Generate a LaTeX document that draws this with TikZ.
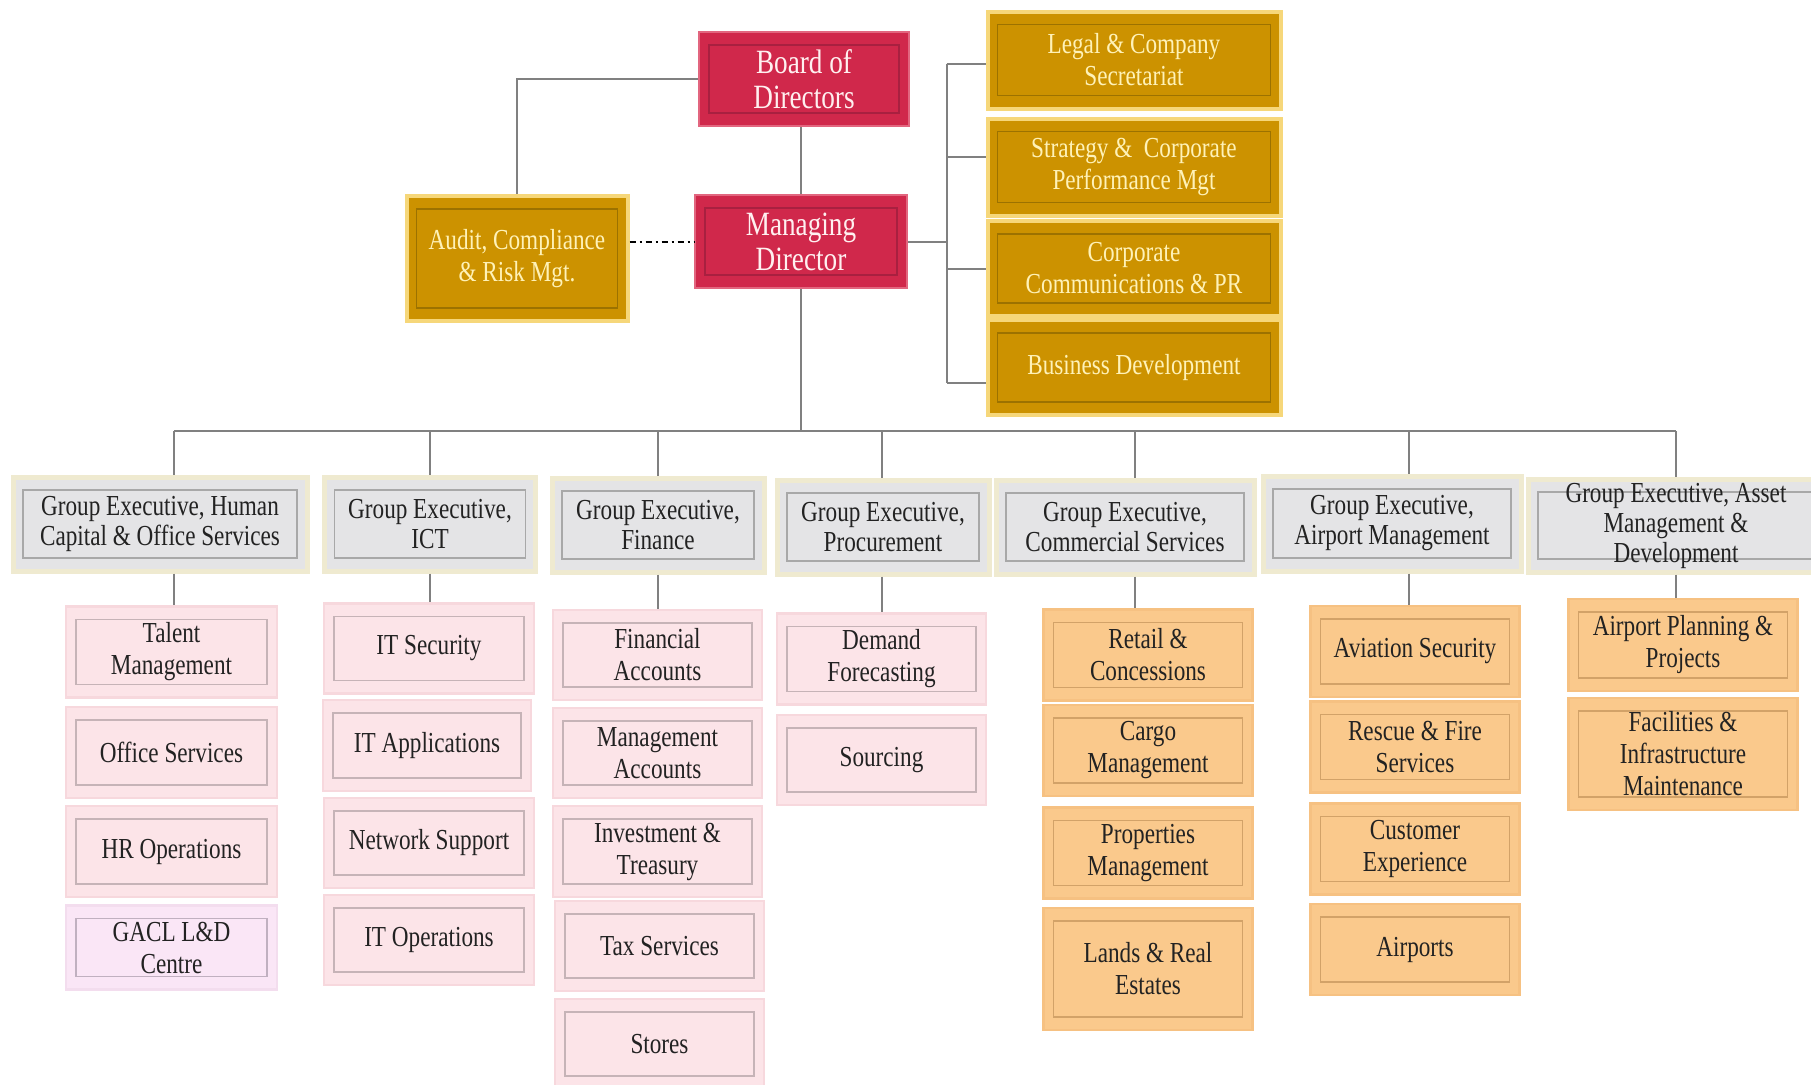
\documentclass[tikz,border=0pt]{standalone}
\usepackage{fontspec}
\setmainfont{Liberation Serif}[FakeStretch=0.8]
\usetikzlibrary{calc}
\definecolor{redF}{HTML}{D0284B}
\definecolor{redO}{HTML}{E2667F}
\definecolor{redI}{HTML}{A82040}
\definecolor{redT}{HTML}{FFF0F0}
\definecolor{goldF}{HTML}{CC9200}
\definecolor{goldO}{HTML}{F6D77A}
\definecolor{goldI}{HTML}{9C7200}
\definecolor{goldT}{HTML}{FFF2B8}
\definecolor{grayF}{HTML}{E4E4E6}
\definecolor{grayO}{HTML}{EFEAD0}
\definecolor{grayI}{HTML}{A8A8A8}
\definecolor{pinkF}{HTML}{FCE4E8}
\definecolor{pinkO}{HTML}{F7D8DD}
\definecolor{pinkI}{HTML}{C6B3B7}
\definecolor{lavF}{HTML}{FAE6F6}
\definecolor{lavO}{HTML}{F3DDEE}
\definecolor{lavI}{HTML}{C0B0C0}
\definecolor{orF}{HTML}{FAC98C}
\definecolor{orO}{HTML}{F6C182}
\definecolor{orI}{HTML}{D2A268}
\definecolor{darkT}{HTML}{222222}
\definecolor{lineC}{HTML}{808080}
\newcommand{\fntA}{\fontsize{14.5}{16}\selectfont}
\newcommand{\fntB}{\fontsize{17}{17.5}\selectfont}
\newcommand{\fntC}{\fontsize{14.5}{15}\selectfont}
\tikzset{
  bevcol/.code={\def\bevcolor{#1}},
  bev/.style={rectangle, inner sep=0pt, align=center, line width=1.2pt,
    path picture={\draw[line width=0.9pt, draw=\bevcolor]
      ([shift={(5pt,-6.5pt)}]path picture bounding box.north west) rectangle
      ([shift={(-5pt,6.5pt)}]path picture bounding box.south east);}},
  redbox/.style={bev, fill=redF, draw=redO, text=redT, bevcol=redI, font=\fntB},
  goldbox/.style={bev, fill=goldF, draw=goldO, line width=2pt, text=goldT, bevcol=goldI, font=\fntA},
  execbox/.style={bev, fill=grayF, draw=grayO, line width=2.5pt, text=darkT, bevcol=grayI, font=\fntC},
  pinkbox/.style={bev, fill=pinkF, draw=pinkO, text=darkT, bevcol=pinkI, font=\fntA},
  lavbox/.style={bev, fill=lavF, draw=lavO, text=darkT, bevcol=lavI, font=\fntA},
  orbox/.style={bev, fill=orF, draw=orO, text=darkT, bevcol=orI, font=\fntA},
  conn/.style={draw=lineC, line width=1pt},
  dashdot/.style={draw=black, line width=1pt, dash pattern=on 3pt off 2pt on 1pt off 2pt},
}
\newcommand{\orgbox}[7]{\node[#2, minimum width=#5*0.5pt, minimum height=#6*0.5pt] (#1) at (#3,#4) {#7};}
\begin{document}
\begin{tikzpicture}[x=0.5pt,y=-0.5pt]
\fill[white] (0,0) rectangle (1811,1084);
\useasboundingbox (0,0) rectangle (1811,1084);
% top level
\orgbox{board}{redbox}{804}{79}{210}{94}{Board of\\Directors}
\orgbox{md}{redbox}{801}{241.5}{212}{93}{Managing\\Director}
\orgbox{audit}{goldbox}{517}{258.5}{221}{125}{Audit, Compliance\\\& Risk Mgt.}
\orgbox{legal}{goldbox}{1134}{60}{293}{97}{Legal \& Company\\Secretariat}
\orgbox{strat}{goldbox}{1134}{167}{293}{97}{Strategy \&\ \ Corporate\\Performance Mgt}
\orgbox{comms}{goldbox}{1134}{268.5}{293}{95}{Corporate\\Communications \& PR}
\orgbox{bizdev}{goldbox}{1134}{367.5}{293}{95}{Business Development}
% executives
\orgbox{e1}{execbox}{160}{524}{294}{94}{Group Executive, Human\\Capital \& Office Services}
\orgbox{e2}{execbox}{430}{524}{211}{94}{Group Executive,\\ICT}
\orgbox{e3}{execbox}{658}{525}{212}{94}{Group Executive,\\Finance}
\orgbox{e4}{execbox}{883}{527}{212}{94}{Group Executive,\\Procurement}
\orgbox{e5}{execbox}{1125}{527}{258}{94}{Group Executive,\\Commercial Services}
\orgbox{e6}{execbox}{1392}{523.5}{258}{95}{Group Executive,\\Airport Management}
\orgbox{e7}{execbox}{1676}{525.5}{296}{93}{Group Executive, Asset\\Management \&\\Development}
% HCOS
\orgbox{c11}{pinkbox}{171.5}{652}{211}{91}{Talent\\Management}
\orgbox{c12}{pinkbox}{171.5}{752.5}{211}{91}{Office Services}
\orgbox{c13}{pinkbox}{171.5}{851.5}{211}{91}{HR Operations}
\orgbox{c14}{lavbox}{171.5}{947.5}{211}{84}{GACL L\&D\\Centre}
% ICT
\orgbox{c21}{pinkbox}{429}{648.5}{210}{90}{IT Security}
\orgbox{c22}{pinkbox}{427}{745.5}{208}{91}{IT Applications}
\orgbox{c23}{pinkbox}{429}{843}{210}{90}{Network Support}
\orgbox{c24}{pinkbox}{429}{940}{210}{90}{IT Operations}
% Finance
\orgbox{c31}{pinkbox}{657.5}{655}{209}{90}{Financial\\Accounts}
\orgbox{c32}{pinkbox}{657.5}{753}{209}{90}{Management\\Accounts}
\orgbox{c33}{pinkbox}{657.5}{851.5}{209}{91}{Investment \&\\Treasury}
\orgbox{c34}{pinkbox}{659.5}{946}{209}{90}{Tax Services}
\orgbox{c35}{pinkbox}{659.5}{1044}{209}{90}{Stores}
% Procurement
\orgbox{c41}{pinkbox}{881.5}{659}{209}{91}{Demand\\Forecasting}
\orgbox{c42}{pinkbox}{881.5}{760}{209}{90}{Sourcing}
% Commercial
\orgbox{c51}{orbox}{1148}{655}{209}{91}{Retail \&\\Concessions}
\orgbox{c52}{orbox}{1148}{750.5}{209}{91}{Cargo\\Management}
\orgbox{c53}{orbox}{1148}{853}{209}{91}{Properties\\Management}
\orgbox{c54}{orbox}{1148}{969}{209}{122}{Lands \& Real\\Estates}
% Airport management
\orgbox{c61}{orbox}{1415}{651.5}{209}{91}{Aviation Security}
\orgbox{c62}{orbox}{1415}{747}{209}{91}{Rescue \& Fire\\Services}
\orgbox{c63}{orbox}{1415}{849}{209}{91}{Customer\\Experience}
\orgbox{c64}{orbox}{1415}{949.5}{209}{91}{Airports}
% Asset
\orgbox{c71}{orbox}{1683}{645}{229}{92}{Airport Planning \&\\Projects}
\orgbox{c72}{orbox}{1683}{754}{229}{112}{Facilities \&\\Infrastructure\\Maintenance}
% connectors top
\draw[conn] (board.west) -| (audit.north);
\draw[conn] (md.north |- board.south) -- (md.north);
\draw[dashdot] (md.west -| audit.east) -- (md.west);
\coordinate (r1) at (946.5,64);
\coordinate (r2) at (946.5,157);
\coordinate (r3) at (946.5,269);
\coordinate (r4) at (946.5,383);
\draw[conn] (md.east) -- (md.east -| r1);
\draw[conn] (r1) -- (r4);
\draw[conn] (r1) -- (r1 -| legal.west);
\draw[conn] (r2) -- (r2 -| strat.west);
\draw[conn] (r3) -- (r3 -| comms.west);
\draw[conn] (r4) -- (r4 -| bizdev.west);
% bus
\coordinate (k1) at (174,431);
\coordinate (k2) at (430,431);
\coordinate (k3) at (658,431);
\coordinate (k4) at (882,431);
\coordinate (k5) at (1135,431);
\coordinate (k6) at (1409,431);
\coordinate (k7) at (1676,431);
\draw[conn] (md.south) -- (md.south |- k1);
\draw[conn] (k1) -- (k7);
\foreach \k/\e/\c in {k1/e1/c11, k2/e2/c21, k3/e3/c31, k4/e4/c41, k5/e5/c51, k6/e6/c61, k7/e7/c71}{
  \draw[conn] (\k) -- (\k |- \e.north);
  \draw[conn] (\k |- \e.south) -- (\k |- \c.north);
}
\end{tikzpicture}
\end{document}
